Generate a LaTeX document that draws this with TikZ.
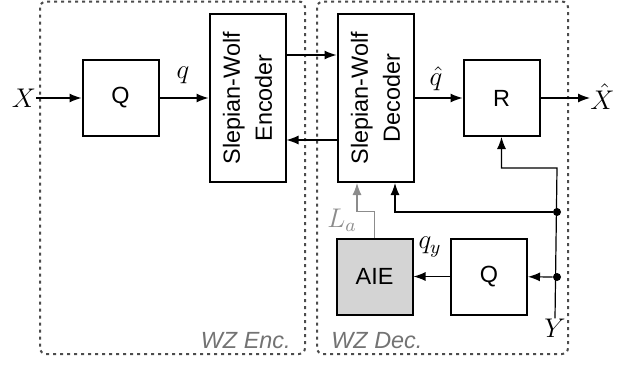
\RequirePackage{fix-cm}
\documentclass[tikz,border=0pt]{standalone}
\usepackage{fontspec}
\setsansfont{Liberation Sans}
\usetikzlibrary{arrows.meta}

\begin{document}
\begin{tikzpicture}[
  x=0.5pt, y=-0.5pt,
  blk/.style={
    draw, line width=1pt,
    minimum width=38pt, minimum height=38pt,
    inner sep=0pt,
    font=\sffamily\fontsize{11.7}{16}\selectfont, align=center
  },
  swblk/.style={blk, minimum height=84pt},
  swtxt/.style={rotate=90, font=\sffamily\fontsize{11.7}{16}\selectfont, align=center},
  sig/.style={-{Latex[length=6pt,width=4.5pt]}, line width=0.6pt},
  lbl/.style={font=\fontsize{13.5}{16}\selectfont, inner sep=0pt},
  zone/.style={draw=black!70, line width=1pt, dash pattern=on 1.5pt off 2pt, rounded corners=3pt},
  zonelbl/.style={font=\sffamily\itshape\fontsize{11.7}{14}\selectfont, text=black!55, inner sep=0pt},
  dot/.style={circle, fill, inner sep=0pt, minimum size=4pt}
]
\useasboundingbox (0,0) rectangle (626,364);

% --- Zones ---
\draw[zone] (40,1.5) rectangle (305,354);
\draw[zone] (317,1.5) rectangle (568,354);
\node[zonelbl, anchor=base east] (enclbl) at (291,348) {WZ Enc.};
\node[zonelbl, anchor=base west] (declbl) at (331,348) {WZ Dec.};

% --- Encoder side ---
\node[lbl] (xin) at (24,98) {$X$};
\node[blk] (q1) at (120.5,98) {Q};
\node[swblk] (enc) at (247.5,98) {};
\node[swtxt] (enctxt) at (enc) {Slepian-Wolf\\Encoder};
\node[lbl] (qlbl) at (183,75) {$q$};

% --- Decoder side ---
\node[swblk] (dec) at (375.5,98) {};
\node[swtxt] (dectxt) at (dec) {Slepian-Wolf\\Decoder};
\node[blk] (r) at (501.5,98) {R};
\node[lbl] (qhat) at (436,79) {$\hat{q}$};
\node[lbl, anchor=west] (xout) at (590,97) {$\hat{X}$};
\node[blk, fill=black!17] (aie) at (374.5,276.5) {AIE};
\node[blk] (q2) at (489,276.5) {Q};
\node[lbl] (qy) at (430,247) {$q_y$};
\node[lbl, text=black!45] (la) at (342,220) {$L_a$};
\node[lbl] (ylab) at (555,328) {$Y$};
\node[dot] (j1) at (557,212) {};
\node[dot] (j2) at (557,277) {};
\coordinate (ytop) at (557,168);

% --- Connectors ---
\draw[sig] (xin) -- (q1);
\draw[sig] (q1) -- (enc);
\draw[sig] ([yshift=21.5pt]enc.east) -- ([yshift=21.5pt]dec.west);
\draw[sig] ([yshift=-21pt]dec.west) -- ([yshift=-21pt]enc.east);
\draw[sig] (dec) -- (r);
\draw[sig] (r) -- (r -| xout.west);
\draw[sig] (ylab.north) -- (ytop) -| (r.south);
\draw[sig] (j1) -| ([xshift=9.75pt]dec.south);
\draw[sig] (j2) -- (q2);
\draw[sig] (q2) -- (aie);
\draw[sig, black!45] (aie.north) -- ++(0,-26) -| ([xshift=-9.25pt]dec.south);

\end{tikzpicture}
\end{document}
